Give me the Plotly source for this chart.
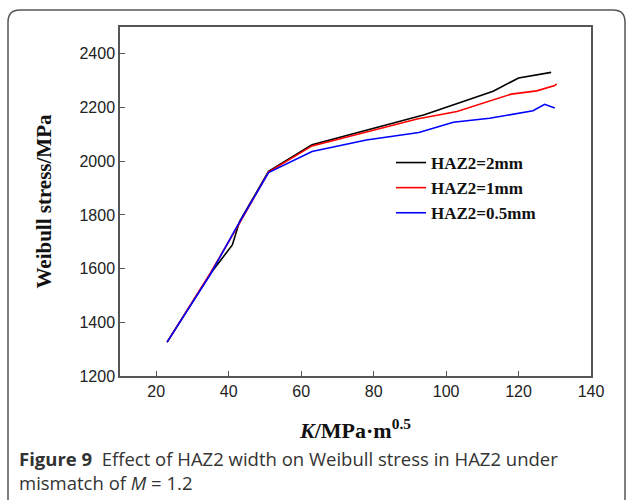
import plotly.graph_objects as go

# ---- data ----
k_2mm = [23, 35, 41, 43, 51, 63, 94, 113, 120, 129]
w_2mm = [1326, 1582, 1688, 1775, 1962, 2061, 2173, 2261, 2310, 2331]

k_1mm = [23, 35, 43, 51, 63, 92, 103, 118, 125, 128.4, 130, 130.5]
w_1mm = [1326, 1585, 1770, 1960, 2057, 2157, 2185, 2250, 2262, 2274, 2282, 2288]

k_05mm = [23, 35, 42, 51, 63, 78, 92.5, 102, 112, 124, 127.2, 130]
w_05mm = [1326, 1580, 1750, 1958, 2036, 2079, 2107, 2145, 2160, 2188, 2212, 2198]

series_names = ["HAZ2=2mm", "HAZ2=1mm", "HAZ2=0.5mm"]
series_colors = ["#000000", "#ff0000", "#0000ff"]

x_ticks = [20, 40, 60, 80, 100, 120, 140]
y_ticks = [1200, 1400, 1600, 1800, 2000, 2200, 2400]

W, H = 627, 503
L, R, T, B = 120, 36, 27, 127
pw, ph = W - L - R, H - T - B


def px(x):
    return (x - L) / pw


def py(y):
    return (H - B - y) / ph


fig = go.Figure()
for xs, ys, name, col in zip([k_2mm, k_1mm, k_05mm], [w_2mm, w_1mm, w_05mm],
                             series_names, series_colors):
    fig.add_trace(go.Scatter(x=xs, y=ys, mode="lines", name="<b>%s</b>" % name,
                             line=dict(color=col, width=1.6)))

axis_common = dict(showgrid=False, zeroline=False, showline=True, linecolor="#555555",
                   linewidth=1.5, mirror=True, ticks="inside", ticklen=5,
                   tickcolor="#555555", tickwidth=1.2,
                   tickfont=dict(family="Liberation Sans, Arial", size=16, color="#222222"))

fig.update_xaxes(range=[10, 140], tickvals=x_ticks, **axis_common,
                 title=dict(text="<b><i>K</i>/MPa·m<sup>0.5</sup></b>",
                            font=dict(family="Liberation Serif, Times New Roman", size=22, color="#111111"),
                            standoff=24))
fig.update_yaxes(range=[1200, 2500], tickvals=y_ticks, **axis_common,
                 title=dict(text="<b>Weibull stress/MPa</b>",
                            font=dict(family="Liberation Serif, Times New Roman", size=21, color="#111111"),
                            standoff=22))

# rounded frame around figure + caption
x0, x1, y0, y1, r = 8, 625, 10, 500, 12
rx, ry = r / pw, r / ph
path = ("M {a},{b} L {a},{c} Q {a},{d} {e},{d} L {f},{d} Q {g},{d} {g},{h} L {g},{b}"
        ).format(a=px(x0), b=py(y1), c=py(y0 + r), d=py(y0), e=px(x0 + r),
                 f=px(x1 - r), g=px(x1), h=py(y0 + r))
fig.add_shape(type="path", path=path, xref="paper", yref="paper",
              line=dict(color="#555555", width=1.5), layer="below")

fig.add_annotation(xref="paper", yref="paper", x=px(17), y=py(444), xanchor="left", yanchor="top",
                   align="left", showarrow=False,
                   text="<b>Figure 9</b>  Effect of HAZ2 width on Weibull stress in HAZ2 under<br>mismatch of <i>M</i> = 1.2",
                   font=dict(family="Open Sans", size=18.5, color="#333333"))

fig.update_layout(
    width=W, height=H, margin=dict(l=L, r=R, t=T, b=B),
    paper_bgcolor="white", plot_bgcolor="white",
    legend=dict(x=px(391), y=py(145), xanchor="left", yanchor="top",
                bgcolor="rgba(0,0,0,0)", tracegroupgap=0,
                font=dict(family="Liberation Serif, Times New Roman", size=17, color="#111111")),
)

fig.write_html("out.html")
